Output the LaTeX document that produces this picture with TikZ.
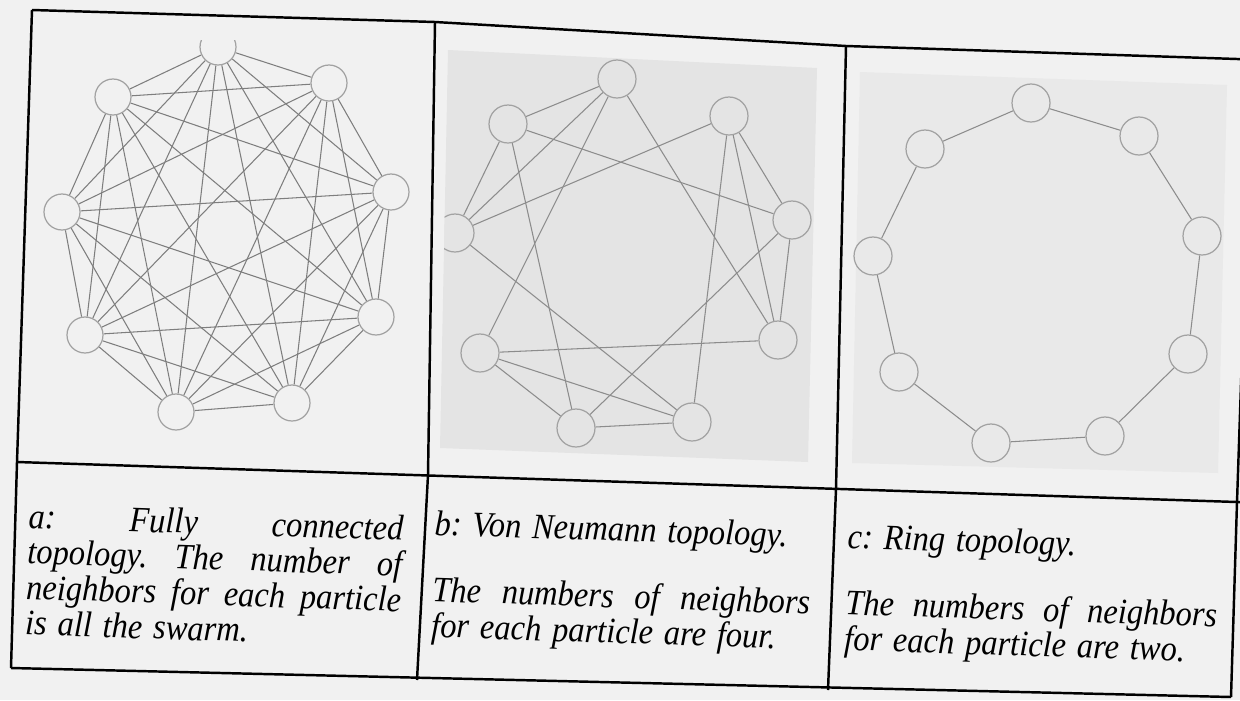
\documentclass[tikz,border=0pt]{standalone}
\usepackage{fontspec}
\setmainfont{Liberation Serif}
\pgfdeclarelayer{back}
\pgfdeclarelayer{edges}
\pgfsetlayers{back,edges,main}
\definecolor{pagebg}{HTML}{F1F1F1}
\definecolor{boxb}{HTML}{E4E4E4}
\definecolor{boxc}{HTML}{E9E9E9}
\definecolor{edgecol}{HTML}{8C8C8C}
\definecolor{edgecola}{HTML}{7E7E7E}
\definecolor{circcol}{HTML}{A2A2A2}
\frenchspacing
\newcommand{\capfont}{\fontsize{18.5}{18.4}\selectfont\itshape\frenchspacing}
\newcommand{\fullline}[1]{\makebox[\linewidth][s]{\spaceskip=0pt\xspaceskip=0pt #1}}
\begin{document}
\begin{tikzpicture}[x=0.02cm,y=-0.02cm,
  grid/.style={line width=1.4pt, draw=black, line join=round},
  pnode/.style={circle, draw=circcol, line width=0.7pt, inner sep=0pt, minimum size=0.72cm, fill=pagebg},
  pnodeb/.style={pnode, fill=boxb, minimum size=0.76cm},
  pnodec/.style={pnode, fill=boxc, minimum size=0.76cm},
  link/.style={draw=edgecol, line width=0.6pt},
  linka/.style={draw=edgecola, line width=0.6pt},
  capbox/.style={anchor=base west, inner sep=0pt, rotate=-1.9, yscale=1.1, align=left, font=\capfont, text=black}]
\useasboundingbox (0,0) rectangle (1240,700);
\begin{pgfonlayer}{back}
  \fill[pagebg] (0,0) rectangle (1240,700);
  \fill[boxb] (448,50) -- (817,68) -- (808,462) -- (440,448) -- cycle;
  \fill[boxc] (860,72) -- (1227,85) -- (1218,473) -- (852,463) -- cycle;
\end{pgfonlayer}

% ---------- panel a: fully connected ----------
\begin{scope}
  \clip (0,40) rectangle (440,470);
  \node[pnode] (a1) at (218,47) {};
\end{scope}
\node[pnode] (a2) at (329,83) {};
\node[pnode] (a3) at (391,192) {};
\node[pnode] (a4) at (376,317) {};
\node[pnode] (a5) at (292,403) {};
\node[pnode] (a6) at (176,412) {};
\node[pnode] (a7) at (85,335) {};
\node[pnode] (a8) at (62,212) {};
\node[pnode] (a9) at (113,97) {};
\begin{pgfonlayer}{edges}
  \foreach \i in {1,...,8}{
    \pgfmathtruncatemacro{\k}{\i+1}
    \foreach \j in {\k,...,9}{
      \draw[linka] (a\i) -- (a\j);
    }
  }
\end{pgfonlayer}

% ---------- panel b: von Neumann ----------
\node[pnodeb] (bT) at (617,79) {};
\node[pnodeb] (bUL) at (508,124) {};
\node[pnodeb] (bUR) at (729,116) {};
\begin{scope}
  \clip (448,50) -- (817,68) -- (808,462) -- (440,448) -- cycle;
  \node[pnodeb] (bL) at (455,233) {};
\end{scope}
\node[pnodeb] (bR) at (792,220) {};
\node[pnodeb] (bLR) at (778,340) {};
\node[pnodeb] (bLL) at (480,353) {};
\node[pnodeb] (bBL) at (576,428) {};
\node[pnodeb] (bBR) at (692,422) {};
\begin{pgfonlayer}{edges}
  \foreach \u/\v in {bT/bUL, bT/bL, bT/bLL, bT/bLR,
                     bUL/bL, bUL/bR, bUL/bBL,
                     bUR/bL, bUR/bBR, bUR/bLR, bUR/bR,
                     bR/bLR, bR/bBL, bL/bBR,
                     bLL/bLR, bLL/bBR, bLL/bBL, bBL/bBR}{
    \draw[link] (\u) -- (\v);
  }
\end{pgfonlayer}

% ---------- panel c: ring ----------
\node[pnodec] (cT) at (1031,103) {};
\node[pnodec] (cUR) at (1139,136) {};
\node[pnodec] (cR) at (1202,236) {};
\node[pnodec] (cLR) at (1188,354) {};
\node[pnodec] (cBR) at (1105,436) {};
\node[pnodec] (cBL) at (991,443) {};
\node[pnodec] (cLL) at (899,372) {};
\node[pnodec] (cL) at (873,256) {};
\node[pnodec] (cUL) at (925,149) {};
\begin{pgfonlayer}{edges}
  \foreach \u/\v in {cT/cUR, cUR/cR, cR/cLR, cLR/cBR, cBR/cBL, cBL/cLL, cLL/cL, cL/cUL, cUL/cT}{
    \draw[link] (\u) -- (\v);
  }
\end{pgfonlayer}

% ---------- captions ----------
\node[capbox, text width=7.5cm] (capa) at (28,528)
  {\fullline{a: Fully connected}\\
   \fullline{topology. The number of}\\
   \fullline{neighbors for each particle}\\
   is all the swarm.};
\node[capbox, text width=7.56cm] (capb) at (434,535)
  {b: Von Neumann topology.\\[16pt]
   \fullline{The numbers of neighbors}\\
   for each particle are four.};
\node[capbox, text width=7.44cm] (capc) at (847,548)
  {c: Ring topology.\\[16pt]
   \fullline{The numbers of neighbors}\\
   for each particle are two.};

% ---------- table rules ----------
\draw[grid] (32,10) -- (435,22) -- (846,46) -- (1252,59.5);
\draw[grid] (32,10) -- (17,462) -- (11,668);
\draw[grid] (17,462) -- (1252,502.5);
\draw[grid] (11,668) -- (1231,697);
\draw[grid] (435,22) -- (428,475) -- (417,680);
\draw[grid] (846,46) -- (836,489) -- (828,690);
\draw[grid] (1252,59.5) -- (1237,502) -- (1231,697);
\end{tikzpicture}
\end{document}
